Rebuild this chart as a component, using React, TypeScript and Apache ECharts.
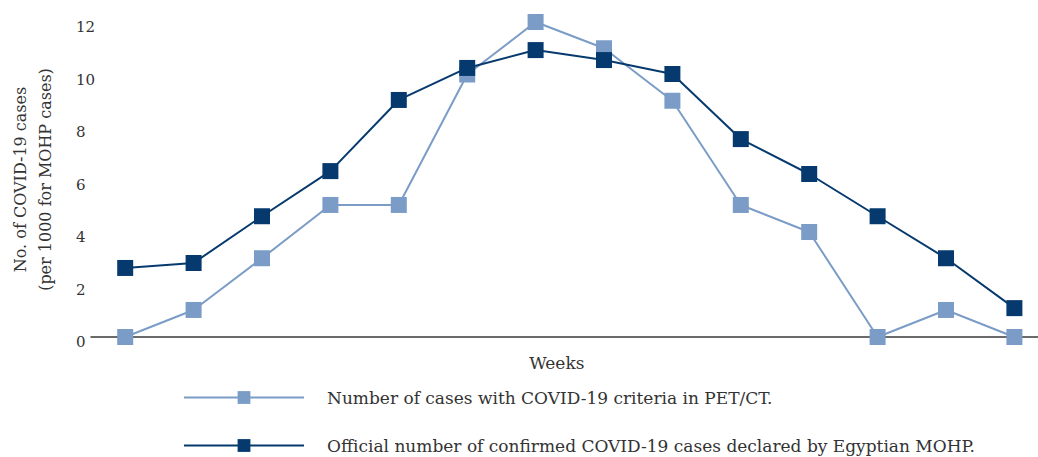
import React, { useEffect, useRef } from "react";
import * as echarts from "echarts";

const weeks = ["1", "2", "3", "4", "5", "6", "7", "8", "9", "10", "11", "12", "13", "14"];
const petCtCases = [0, 1.03, 3, 5.03, 5.03, 10, 12, 11, 9, 5.03, 4, 0, 1.03, 0];
const mohpCases = [2.63, 2.82, 4.6, 6.32, 9.03, 10.25, 10.93, 10.55, 10.02, 7.54, 6.21, 4.6, 3.0, 1.1];
const yTicks = [0, 2, 4, 6, 8, 10, 12];

const seriesNames = [
  "Number of cases with COVID-19 criteria in PET/CT.",
  "Official number of confirmed COVID-19 cases declared by Egyptian MOHP.",
];

const FONT = "DejaVu Serif";

const legendBase = {
  orient: "horizontal",
  left: 183,
  padding: 0,
  itemWidth: 120,
  itemHeight: 16,
  textStyle: { fontFamily: FONT, fontSize: 17, color: "#333", padding: [0, 0, 0, 18] },
};

export default function App() {
  const ref = useRef<HTMLDivElement>(null);
  useEffect(() => {
    if (!ref.current) return;
    const chart = echarts.init(ref.current, null, { renderer: "svg" });
    chart.setOption({
      animation: false,
      textStyle: { fontFamily: FONT, color: "#333" },
      grid: {
        left: 91,
        top: 22,
        width: 957.6,
        height: 315,
        containLabel: false,
        outerBoundsMode: "none",
      },
      xAxis: {
        type: "category",
        data: weeks,
        boundaryGap: true,
        name: "Weeks",
        nameLocation: "middle",
        nameGap: 17,
        nameTextStyle: { fontFamily: FONT, fontSize: 17, color: "#333", padding: [0, 26, 0, 0] },
        axisLine: { show: true, lineStyle: { color: "#3a3a3a", width: 1.5 } },
        axisTick: { show: false },
        axisLabel: { show: false },
        splitLine: { show: false },
      },
      yAxis: {
        type: "value",
        min: yTicks[0],
        max: yTicks[yTicks.length - 1],
        interval: 2,
        name: "No. of COVID-19 cases\n(per 1000 for MOHP cases)",
        nameLocation: "middle",
        nameGap: 33,
        nameTextStyle: { fontFamily: FONT, fontSize: 16, color: "#333", lineHeight: 25 },
        axisLine: { show: false },
        axisTick: { show: false },
        splitLine: { show: false },
        axisLabel: {
          fontFamily: FONT,
          fontSize: 15,
          color: "#333",
          margin: 15,
          align: "left",
          verticalAlign: "top",
          lineHeight: 10,
        },
      },
      legend: [
        { ...legendBase, top: 389, data: [seriesNames[0]] },
        { ...legendBase, top: 437, data: [seriesNames[1]] },
      ],
      series: [
        {
          name: seriesNames[0],
          type: "line",
          data: petCtCases,
          symbol: "rect",
          symbolSize: 16,
          lineStyle: { color: "#7a9cc6", width: 2 },
          itemStyle: { color: "#7a9cc6" },
          z: 2,
        },
        {
          name: seriesNames[1],
          type: "line",
          data: mohpCases,
          symbol: "rect",
          symbolSize: 16,
          lineStyle: { color: "#063a6e", width: 2 },
          itemStyle: { color: "#063a6e" },
          z: 3,
        },
      ],
    });
    return () => chart.dispose();
  }, []);
  return (
    <div
      ref={ref}
      style={{ position: "absolute", left: 0, top: 0, width: 1060, height: 457 }}
    />
  );
}
